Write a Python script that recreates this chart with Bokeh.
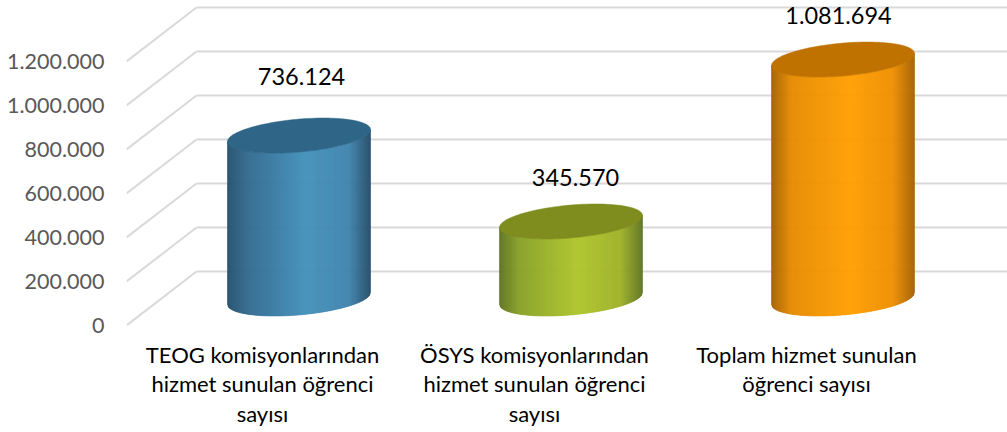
import numpy as np
from bokeh.embed import file_html
from bokeh.resources import INLINE
from bokeh.plotting import figure
from bokeh.models import Range1d, LinearAxis, FixedTicker, ColumnDataSource
from bokeh.core.properties import value

# ---- data ----
categories = ["TEOG komisyonlarından\nhizmet sunulan öğrenci\nsayısı",
              "ÖSYS komisyonlarından\nhizmet sunulan öğrenci\nsayısı",
              "Toplam hizmet sunulan\nöğrenci sayısı"]
values = [736124, 345570, 1081694]
value_labels = ["736.124", "345.570", "1.081.694"]
y_ticks = [0, 200000, 400000, 600000, 800000, 1000000, 1200000]
y_tick_labels = ["0", "200.000", "400.000", "600.000", "800.000", "1.000.000", "1.200.000"]

# ---- styles ----
stops = [0, .14, .55, .85, 1]
body_colors = [
    ["#234f6c", "#31698e", "#4290bb", "#3f83ad", "#234d69"],
    ["#5d7221", "#87a026", "#aec52a", "#9db027", "#5f7420"],
    ["#a56000", "#e58a00", "#ff9e00", "#ee8e00", "#a66200"],
]
cap_colors = ["#2f6687", "#7f8c1e", "#bf7200"]
label_dx = [39, 41, 32]
label_dy = [-61, -46, -46]

W, H = 1007, 432
LEFT, BOTTOM = 126, 107
CAT_STEP = 272                 # px per category
PX_PER_UNIT = 44 / 200000      # px per value
DEPTH_X, DEPTH_Y = 70, 54      # 3-D offset of the back wall
fh = H - BOTTOM
fw = W - LEFT
xpx = 1 / CAT_STEP
ypx = 1 / PX_PER_UNIT

x0 = -0.5
p = figure(width=W, height=H, output_backend="svg", toolbar_location=None,
           x_range=Range1d(x0, x0 + fw * xpx), y_range=Range1d(0, fh * ypx),
           x_axis_type=None, y_axis_type=None,
           min_border_left=LEFT, min_border_bottom=BOTTOM, min_border_top=0, min_border_right=0,
           outline_line_color=None, margin=(0, 0, 0, 0))
p.grid.visible = False
p.background_fill_color = "white"
p.border_fill_color = "white"

# walls
for t in y_ticks:
    p.line([x0, x0 + DEPTH_X * xpx], [t, t + DEPTH_Y * ypx], line_color="#d9d9d9", line_width=2)
    p.line([x0 + DEPTH_X * xpx, x0 + fw * xpx], [t + DEPTH_Y * ypx] * 2, line_color="#d9d9d9", line_width=2)

# cylinders
A, B, OFFX, OFFY = 71.5, 17.5, 36.5, 27
phi = np.arccos(6 / B)
CAP_EXTRA = 1


def lerp_color(stop_colors, f):
    rgb = np.array([[int(c[i:i + 2], 16) for i in (1, 3, 5)] for c in stop_colors])
    out = [int(round(np.interp(f, stops, rgb[:, k]))) for k in range(3)]
    return "#%02x%02x%02x" % tuple(out)


for i, v in enumerate(values):
    cx = i + OFFX * xpx
    by = OFFY * ypx
    ty = v + by + CAP_EXTRA * ypx
    edges = np.linspace(-1, 1, 144)
    ts = np.arccos(edges)
    low = -np.abs(B * np.sin(ts) * np.sin(phi)) + B * edges * np.cos(phi)
    xs, ys, cols = [], [], []
    for j in range(len(edges) - 1):
        xa, xb = cx + A * edges[j] * xpx, cx + A * edges[j + 1] * xpx
        xs.append([xa, xb, xb, xa])
        ys.append([by + low[j] * ypx, by + low[j + 1] * ypx, ty + low[j + 1] * ypx, ty + low[j] * ypx])
        cols.append(lerp_color(body_colors[i], (j + .5) / (len(edges) - 1)))
    p.patches(xs, ys, fill_color=cols, line_color=cols, line_width=0.6)
    t = np.linspace(0, 2 * np.pi, 121)
    p.patch(cx + A * np.cos(t) * xpx, ty + B * np.cos(t - phi) * ypx,
            fill_color=cap_colors[i], line_color=cap_colors[i], line_width=0.5)

# value labels
src = ColumnDataSource(dict(x=[0, 1, 2], y=values, t=value_labels,
                            dx=label_dx, dy=[d - 26 for d in label_dy]))
p.text("x", "y", text="t", source=src, x_offset="dx", y_offset="dy",
       text_align="center", text_baseline="middle", text_color="#000000",
       text_font=value("Lato"), text_font_size="23.5px")

# axes
ya = LinearAxis(ticker=FixedTicker(ticks=y_ticks),
                major_label_overrides=dict(zip(y_ticks, y_tick_labels)))
ya.axis_line_color = None
ya.major_tick_line_color = None
ya.minor_tick_line_color = None
ya.major_label_standoff = 16
ya.major_label_text_color = "#595959"
ya.major_label_text_font = "Lato"
ya.major_label_text_font_size = "21.5px"
p.add_layout(ya, "left")

xa_ = LinearAxis(ticker=FixedTicker(ticks=[0, 1, 2]),
                 major_label_overrides=dict(zip([0, 1, 2], categories)))
xa_.axis_line_color = None
xa_.major_tick_line_color = None
xa_.minor_tick_line_color = None
xa_.major_label_standoff = 9
xa_.major_label_text_color = "#000000"
xa_.major_label_text_font = "Lato"
xa_.major_label_text_font_size = "22px"
xa_.major_label_text_line_height = 1.1
p.add_layout(xa_, "below")

open("out.html", "w").write(file_html(p, INLINE))
